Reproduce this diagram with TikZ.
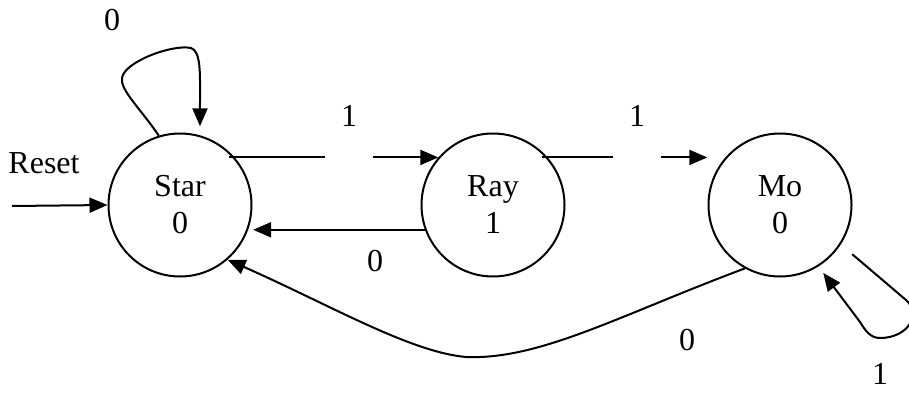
\documentclass[tikz,border=0pt]{standalone}
\usepackage{fontspec}
\setmainfont{Liberation Serif}
\usetikzlibrary{arrows.meta}
\tikzset{
  state/.style={circle, draw, line width=2pt, minimum size=143pt, inner sep=0pt, align=center,
    font=\fontsize{32}{37}\selectfont},
  conn/.style={line width=2pt, -{Triangle[length=18pt,width=15pt]}},
  lbl/.style={inner sep=0pt, font=\fontsize{32}{37}\selectfont},
  gaplbl/.style={lbl, fill=white, minimum width=48pt, text depth=34pt, anchor=base},
}
\begin{document}
\begin{tikzpicture}[x=1pt,y=-1pt]
\clip (0,0) rectangle (909,393);
\node[state] (star) at (180,205) {Star\\0};
\node[state] (ray) at (493,205) {Ray\\1};
\node[state] (mo) at (780,205) {Mo\\0};
\coordinate (resetin) at (12,206);

% Reset
\draw[conn] (resetin) -- (star.west);
% Star -> Ray
\draw[conn, shorten <=-6pt] (star.41) -- (ray.139);
% Ray -> Mo
\draw[conn, shorten <=-6pt, shorten >=18pt] (ray.41) -- (mo.139);
% Ray -> Star
\draw[conn, shorten >=5pt] (ray.200) -- (star.-20);
% Star self loop
\draw[conn, shorten >=9pt] (star.107) .. controls (140,108) and (120,90) .. (122,78)
  .. controls (124,62) and (172,44) .. (191,48)
  .. controls (201,51) and (200,75) .. (200,95) -- (star.74);
% Mo self loop
\draw[conn, shorten <=15pt, shorten >=8pt] (mo.-33) -- (906,300)
  .. controls (922,314) and (908,338) .. (880,338)
  .. controls (870,338) and (865,330) .. (860,322) -- (mo.-58);
% Mo -> Star
\draw[conn] (mo.241) .. controls (620,315) and (540,360) .. (466,357)
  .. controls (410,352) and (330,305) .. (star.-49);

% labels
\node[lbl, anchor=base] (reset) at (44,173) {Reset};
\node[lbl] (l0a) at (112,20) {0};
\node[gaplbl] (l1a) at (349,126) {1};
\node[gaplbl] (l1b) at (637,126) {1};
\node[lbl] (l0b) at (375,261) {0};
\node[lbl] (l0c) at (687,340) {0};
\node[lbl, anchor=base] (l1c) at (880,384) {1};
\end{tikzpicture}
\end{document}
